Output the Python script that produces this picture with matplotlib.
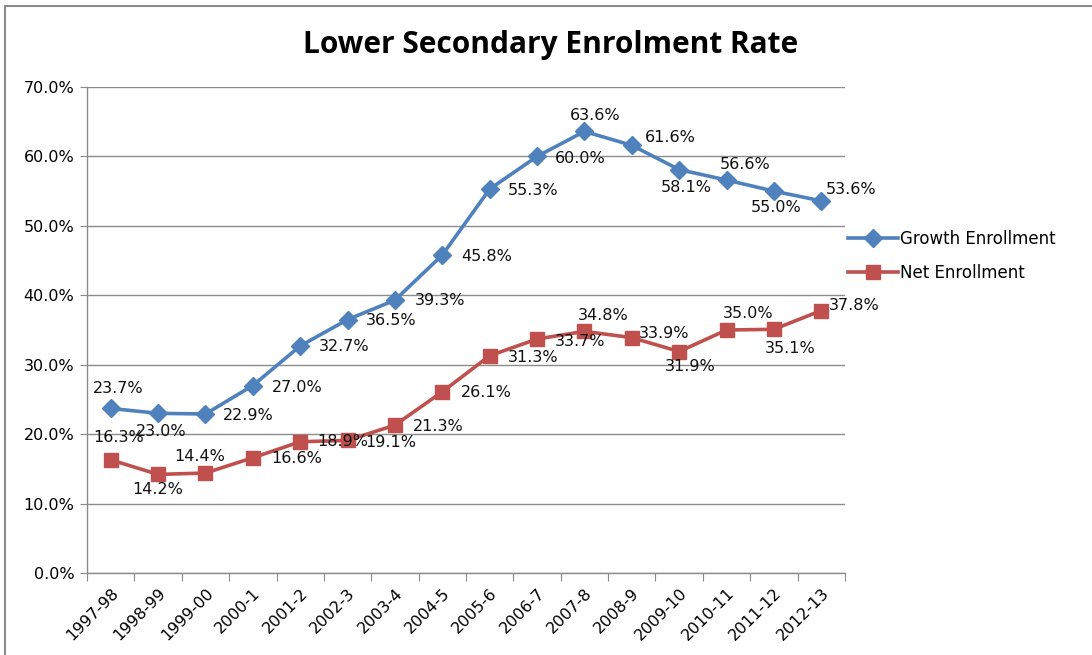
import matplotlib
matplotlib.use("Agg")
import matplotlib.pyplot as plt
from matplotlib.patches import Rectangle
from matplotlib.ticker import FuncFormatter, MultipleLocator, FixedLocator
import numpy as np

categories = ["1997-98", "1998-99", "1999-00", "2000-1", "2001-2", "2002-3", "2003-4",
              "2004-5", "2005-6", "2006-7", "2007-8", "2008-9", "2009-10", "2010-11",
              "2011-12", "2012-13"]
growth = [23.7, 23.0, 22.9, 27.0, 32.7, 36.5, 39.3, 45.8, 55.3, 60.0, 63.6, 61.6, 58.1, 56.6, 55.0, 53.6]
net = [16.3, 14.2, 14.4, 16.6, 18.9, 19.1, 21.3, 26.1, 31.3, 33.7, 34.8, 33.9, 31.9, 35.0, 35.1, 37.8]

# label offsets (pixels, text centre relative to point; +y = down in image)
growth_off = [(7, -20), (3, 18), (43, 1), (44, 2), (44, 1), (44, 1), (45, 0), (44, 1), (43, 1),
              (43, 2), (11, -16), (39, -8), (7, 18), (19, -16), (2, 16), (30, -11)]
net_off = [(8, -22), (0, 15), (-6, -17), (44, 1), (43, 0), (43, 2), (43, 1), (44, 1), (43, 2),
           (43, 2), (19, -16), (32, -4), (11, 15), (22, -17), (16, 19), (33, -5)]

BLUE = "#4F81BD"
RED = "#C0504D"
GRID = "#8C8C8C"
FS = 11.5

fig = plt.figure(figsize=(10.92, 6.55), dpi=100)
fig.patches.append(Rectangle((5 / 1092, -0.05), 1.1, (655 - 6) / 655 + 0.05,
                             transform=fig.transFigure, fill=False, edgecolor="#8C8C8C",
                             linewidth=1.5))
ax = fig.add_axes([87 / 1092, (655 - 573) / 655, (845 - 87) / 1092, (573 - 87) / 655])

x = np.arange(len(categories))
ax.plot(x, growth, color=BLUE, lw=2.6, marker="D", ms=9.5, mfc=BLUE, mec=BLUE,
        label="Growth Enrollment", zorder=3)
ax.plot(x, net, color=RED, lw=2.6, marker="s", ms=10.5, mfc=RED, mec=RED,
        label="Net Enrollment", zorder=3)

for xi, v, (dx, dy) in zip(x, growth, growth_off):
    ax.annotate(f"{v:.1f}%", (xi, v), xytext=(dx, -dy), textcoords="offset pixels",
                ha="center", va="center", fontsize=FS, color="#111111", zorder=4)
for xi, v, (dx, dy) in zip(x, net, net_off):
    ax.annotate(f"{v:.1f}%", (xi, v), xytext=(dx, -dy), textcoords="offset pixels",
                ha="center", va="center", fontsize=FS, color="#111111", zorder=4)

ax.set_xlim(-0.5, len(categories) - 0.5)
ax.set_ylim(0, 70)
ax.yaxis.set_major_locator(MultipleLocator(10))
ax.yaxis.set_major_formatter(FuncFormatter(lambda v, p: f"{v:.1f}%"))
ax.xaxis.set_major_locator(FixedLocator(np.arange(-0.5, len(categories), 1)))
ax.xaxis.set_major_formatter(FuncFormatter(lambda v, p: ""))
ax.set_xticks(x, minor=True)
ax.set_xticklabels(categories, minor=True, rotation=45, ha="right", rotation_mode="anchor",
                   fontsize=FS)
ax.tick_params(axis="x", which="minor", length=0, pad=9)
ax.tick_params(axis="x", which="major", length=6, color=GRID, direction="out")
ax.tick_params(axis="y", length=5, color=GRID, labelsize=FS, pad=4)
ax.grid(axis="y", color=GRID, lw=1)
ax.set_axisbelow(True)
for s in ["top", "right"]:
    ax.spines[s].set_visible(False)
for s in ["left", "bottom"]:
    ax.spines[s].set_color(GRID)
    ax.spines[s].set_linewidth(1)

fig.text(551 / 1092, 1 - 53 / 655, "Lower Secondary Enrolment Rate", ha="center", va="baseline",
         fontsize=21.5, fontweight="bold", family="Open Sans")

ax.legend(loc="center left", bbox_to_anchor=(848 / 1092, 1 - 256 / 655),
          bbox_transform=fig.transFigure, frameon=False, fontsize=12, handlelength=3.0,
          labelspacing=1.0, handletextpad=0.1, borderaxespad=0, borderpad=0)

fig.savefig("out.png", dpi=100)
